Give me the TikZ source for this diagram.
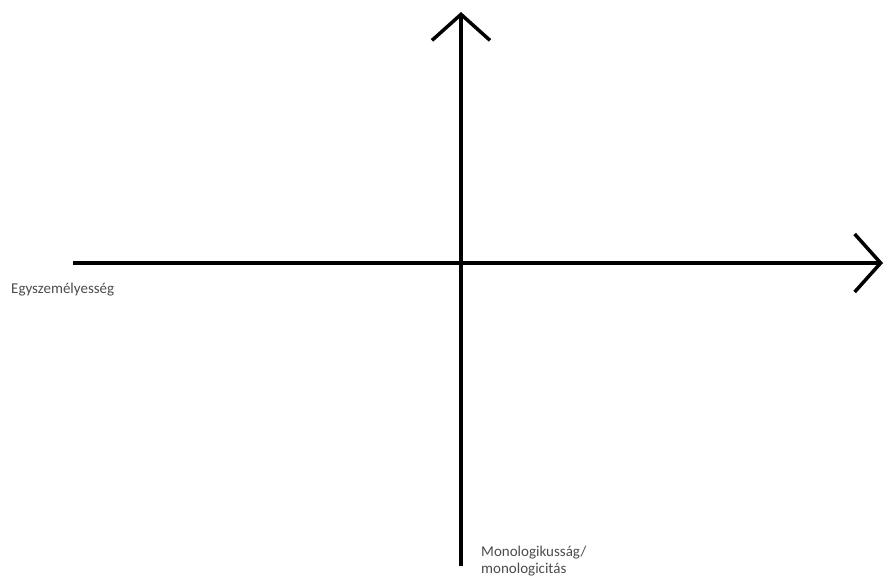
\documentclass[tikz,border=0pt]{standalone}
\usepackage{fontspec}
\setmainfont{Carlito}
\usepackage{tikz}
\usetikzlibrary{arrows.meta, positioning}

\begin{document}
\begin{tikzpicture}[
    x=1pt, y=-1pt,
    every node/.style={font=\fontsize{15}{17}\selectfont, text=black!70},
    axis/.style={line width=3.5pt, -{Straight Barb[length=26pt, width=58pt, line width=3.5pt]}},
    label/.style={inner sep=0pt, align=left}
]
\useasboundingbox (0,0) rectangle (885,576);
% axes
\coordinate (xstart) at (73,263);
\coordinate (xend) at (883,263);
\coordinate (ystart) at (461,566);
\coordinate (yend) at (461,12);
\draw[axis] (xstart) -- (xend);
\draw[axis] (ystart) -- (yend);
% labels
\node[label, anchor=base west] (left) at (11,293) {Egyszemélyesség};
\node[label, anchor=base west] (bottom) at (481,573) {Monologikusság/\\monologicitás};
\end{tikzpicture}
\end{document}
